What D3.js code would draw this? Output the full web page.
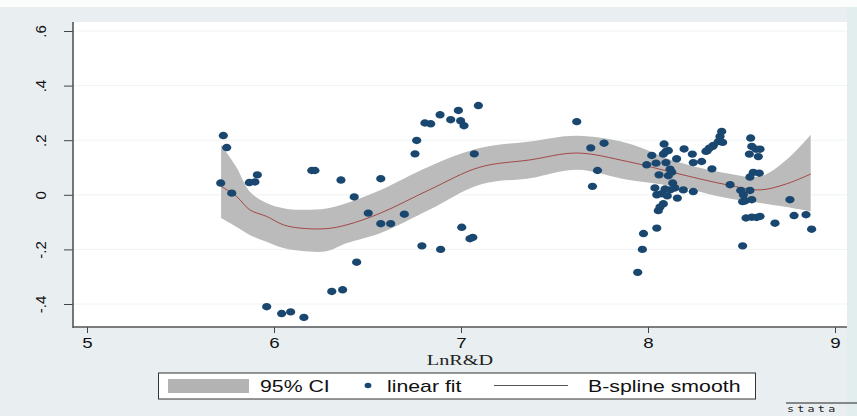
<!DOCTYPE html>
<html>
<head>
<meta charset="utf-8">
<script src="https://cdn.jsdelivr.net/npm/d3@7"></script>
<style>
  body { margin: 0; background: #e9eff1; }
  text { font-family: "Liberation Sans", Arial, sans-serif; }
</style>
</head>
<body>
<svg id="chart" width="857" height="416"></svg>
<script>
// axes
var xTicks = [5, 6, 7, 8, 9];
var yTicks = [-0.4, -0.2, 0, 0.2, 0.4, 0.6];
var yTickLabels = ["-.4", "-.2", "0", ".2", ".4", ".6"];
var xTitle = "LnR&D";
var legendLabels = ["95% CI", "linear fit", "B-spline smooth"];

// scatter (LnR&D, y)
var points = [
  [5.729, 0.217], [5.747, 0.173], [5.715, 0.043], [5.774, 0.006], [5.868, 0.045], [5.898, 0.047],
  [5.911, 0.073], [6.202, 0.089], [6.219, 0.089], [6.358, 0.054], [6.429, -0.008], [6.442, -0.247],
  [6.309, -0.354], [6.367, -0.348], [5.961, -0.410], [6.041, -0.435], [6.089, -0.429], [6.160, -0.449],
  [6.571, 0.059], [6.504, -0.067], [6.571, -0.106], [6.624, -0.106], [6.697, -0.071], [6.763, 0.199],
  [6.754, 0.150], [6.807, 0.263], [6.838, 0.260], [6.888, 0.293], [6.945, 0.275], [6.986, 0.309],
  [6.998, 0.271], [7.016, 0.253], [7.093, 0.327], [7.071, 0.150], [7.004, -0.119], [7.048, -0.161],
  [7.063, -0.156], [6.791, -0.187], [6.891, -0.200],
  [7.619, 0.268], [7.694, 0.172], [7.765, 0.189], [7.730, 0.089], [7.703, 0.031],
  [7.945, -0.284], [7.970, -0.200], [7.976, -0.142], [8.047, -0.122],
  [8.086, 0.186], [8.096, 0.159], [8.109, 0.162], [8.082, 0.149], [8.020, 0.144], [8.153, 0.132],
  [8.193, 0.168], [8.237, 0.149], [8.096, 0.118], [8.043, 0.116], [7.993, 0.110], [8.118, 0.094],
  [8.127, 0.083], [8.059, 0.073], [8.109, 0.070], [8.242, 0.118], [8.287, 0.122], [8.317, 0.162],
  [8.346, 0.177], [8.376, 0.195], [8.342, 0.095], [8.132, 0.043], [8.144, 0.025], [8.118, 0.018],
  [8.091, 0.021], [8.037, 0.025], [8.047, 0.000], [8.073, 0.004], [8.103, -0.004], [8.189, 0.018],
  [8.242, 0.012], [8.157, -0.012], [8.082, -0.033], [8.064, -0.045], [8.055, -0.058],
  [8.394, 0.232], [8.385, 0.214], [8.399, 0.192], [8.349, 0.181], [8.328, 0.171], [8.310, 0.159],
  [8.549, 0.208], [8.555, 0.177], [8.578, 0.167], [8.599, 0.167], [8.542, 0.149], [8.590, 0.140],
  [8.563, 0.082], [8.595, 0.079], [8.545, 0.065], [8.439, 0.037], [8.496, 0.016], [8.545, 0.016],
  [8.510, 0.000], [8.519, -0.022], [8.555, -0.018], [8.506, -0.025], [8.524, -0.085], [8.555, -0.082],
  [8.581, -0.083], [8.599, -0.079], [8.506, -0.187],
  [8.679, -0.104], [8.759, -0.018], [8.781, -0.076], [8.845, -0.073], [8.875, -0.126]
];

// B-spline smooth and its 95% CI
var splineX   = [5.717, 5.80, 5.87, 5.96, 6.05, 6.14, 6.28, 6.39, 6.57, 6.83, 7.10, 7.37, 7.62, 7.89, 8.15, 8.42, 8.60, 8.74, 8.87];
var splineFit = [0.031, -0.006, -0.055, -0.079, -0.110, -0.122, -0.124, -0.110, -0.067, 0.018, 0.101, 0.128, 0.153, 0.122, 0.079, 0.037, 0.018, 0.040, 0.076];
var ciLow     = [-0.085, -0.118, -0.147, -0.172, -0.195, -0.205, -0.207, -0.177, -0.140, -0.055, 0.037, 0.061, 0.092, 0.055, 0.030, -0.012, -0.030, -0.045, -0.061];
var ciHigh    = [0.183, 0.100, 0.012, -0.030, -0.049, -0.055, -0.050, -0.030, 0.018, 0.104, 0.171, 0.195, 0.216, 0.189, 0.122, 0.079, 0.067, 0.128, 0.220];

var svg = d3.select("#chart");
var plot = {left: 73, top: 22, right: 847, bottom: 327};
var stretch = 1.3; // the picture is wider than true, so text and dots are too

var x = d3.scaleLinear().domain([5, 9]).range([87, 835]);
var y = d3.scaleLinear().domain([-0.4, 0.6]).range([304, 31]);

// background
svg.append("rect").attr("width", 857).attr("height", 416).attr("fill", "#e9eff1");
svg.append("rect").attr("width", 857).attr("height", 7).attr("fill", "#fbfcfc");
svg.append("rect").attr("x", plot.right).attr("y", 7).attr("width", 10).attr("height", 409).attr("fill", "#e2eded");
svg.append("rect")
  .attr("x", plot.left).attr("y", plot.top)
  .attr("width", plot.right - plot.left).attr("height", plot.bottom - plot.top)
  .attr("fill", "#ffffff");

// faint grid
svg.append("g").selectAll("line").data(yTicks).join("line")
  .attr("x1", plot.left).attr("x2", plot.right)
  .attr("y1", d => y(d)).attr("y2", d => y(d))
  .attr("stroke", "#eef3f4").attr("stroke-width", 1);

// CI band
var band = splineX.map((d, i) => ({x: d, lo: ciLow[i], hi: ciHigh[i], fit: splineFit[i]}));
svg.append("path").datum(band)
  .attr("d", d3.area().x(d => x(d.x)).y0(d => y(d.lo)).y1(d => y(d.hi)).curve(d3.curveCatmullRom))
  .attr("fill", "#bbbbbb");

svg.append("path").datum(band)
  .attr("d", d3.line().x(d => x(d.x)).y(d => y(d.fit)).curve(d3.curveCatmullRom))
  .attr("fill", "none").attr("stroke", "#a03a3a").attr("stroke-width", 0.9);

// points
svg.append("g").selectAll("ellipse").data(points).join("ellipse")
  .attr("cx", d => x(d[0])).attr("cy", d => y(d[1]))
  .attr("rx", 4.6).attr("ry", 3.7)
  .attr("fill", "#1a476f");

// y axis
var gy = svg.append("g").attr("transform", "translate(" + plot.left + ",0)")
  .call(d3.axisLeft(y).tickValues(yTicks).tickSize(9).tickFormat((d, i) => yTickLabels[i]));
gy.select(".domain").remove();
gy.selectAll(".tick line").attr("stroke", "#444");
gy.selectAll(".tick text")
  .attr("x", 0).attr("y", -27).attr("dy", null)
  .attr("transform", "rotate(-90)")
  .attr("text-anchor", "middle")
  .attr("font-size", 15).attr("fill", "#111")
  .style("font-family", "'Liberation Sans', Arial, sans-serif");
svg.append("line").attr("x1", plot.left).attr("x2", plot.left)
  .attr("y1", plot.top).attr("y2", plot.bottom + 1)
  .attr("stroke", "#555").attr("stroke-width", 1.6);

// x axis
var gx = svg.append("g").attr("transform", "translate(0," + plot.bottom + ")")
  .call(d3.axisBottom(x).tickValues(xTicks).tickSize(6).tickFormat(d3.format("d")));
gx.select(".domain").remove();
gx.selectAll(".tick line").attr("stroke", "#444");
gx.selectAll(".tick text").attr("y", 10).attr("dy", "0.71em")
  .attr("transform", "scale(1.25,1)")
  .attr("font-size", 15).attr("fill", "#111")
  .style("font-family", "'Liberation Sans', Arial, sans-serif");
svg.append("line").attr("x1", plot.left).attr("x2", plot.right)
  .attr("y1", plot.bottom).attr("y2", plot.bottom)
  .attr("stroke", "#555").attr("stroke-width", 1.6);

svg.append("text").attr("transform", "translate(460,365) scale(1.35,1)").attr("text-anchor", "middle")
  .style("font-family", "'Liberation Serif', 'Times New Roman', serif")
  .attr("font-size", 15).attr("fill", "#222").text(xTitle);

// legend
var lg = svg.append("g");
lg.append("rect").attr("x", 158.5).attr("y", 373).attr("width", 597).attr("height", 26)
  .attr("fill", "#fff").attr("stroke", "#333").attr("stroke-width", 1);
lg.append("rect").attr("x", 168).attr("y", 379).attr("width", 81).attr("height", 14).attr("fill", "#b3b3b3");
lg.append("ellipse").attr("cx", 368).attr("cy", 385.5).attr("rx", 3.4).attr("ry", 2.8).attr("fill", "#1a476f");
lg.append("line").attr("x1", 494).attr("x2", 568).attr("y1", 385.5).attr("y2", 385.5)
  .attr("stroke", "#555").attr("stroke-width", 1);
lg.selectAll("text.lab").data([260, 387, 588]).join("text").attr("class", "lab")
  .attr("transform", d => "translate(" + d + ",391.5) scale(1.33,1)")
  .attr("font-size", 16).attr("fill", "#111")
  .text((d, i) => legendLabels[i]);

// stata mark
svg.append("line").attr("x1", 786).attr("x2", 857).attr("y1", 403).attr("y2", 403).attr("stroke", "#222");
svg.append("text").attr("transform", "translate(787,412) scale(1.3,1)").attr("font-size", 9)
  .style("font-family", "'DejaVu Sans Mono', monospace").attr("letter-spacing", 2.5)
  .attr("fill", "#222").text("stata");
</script>
</body>
</html>
